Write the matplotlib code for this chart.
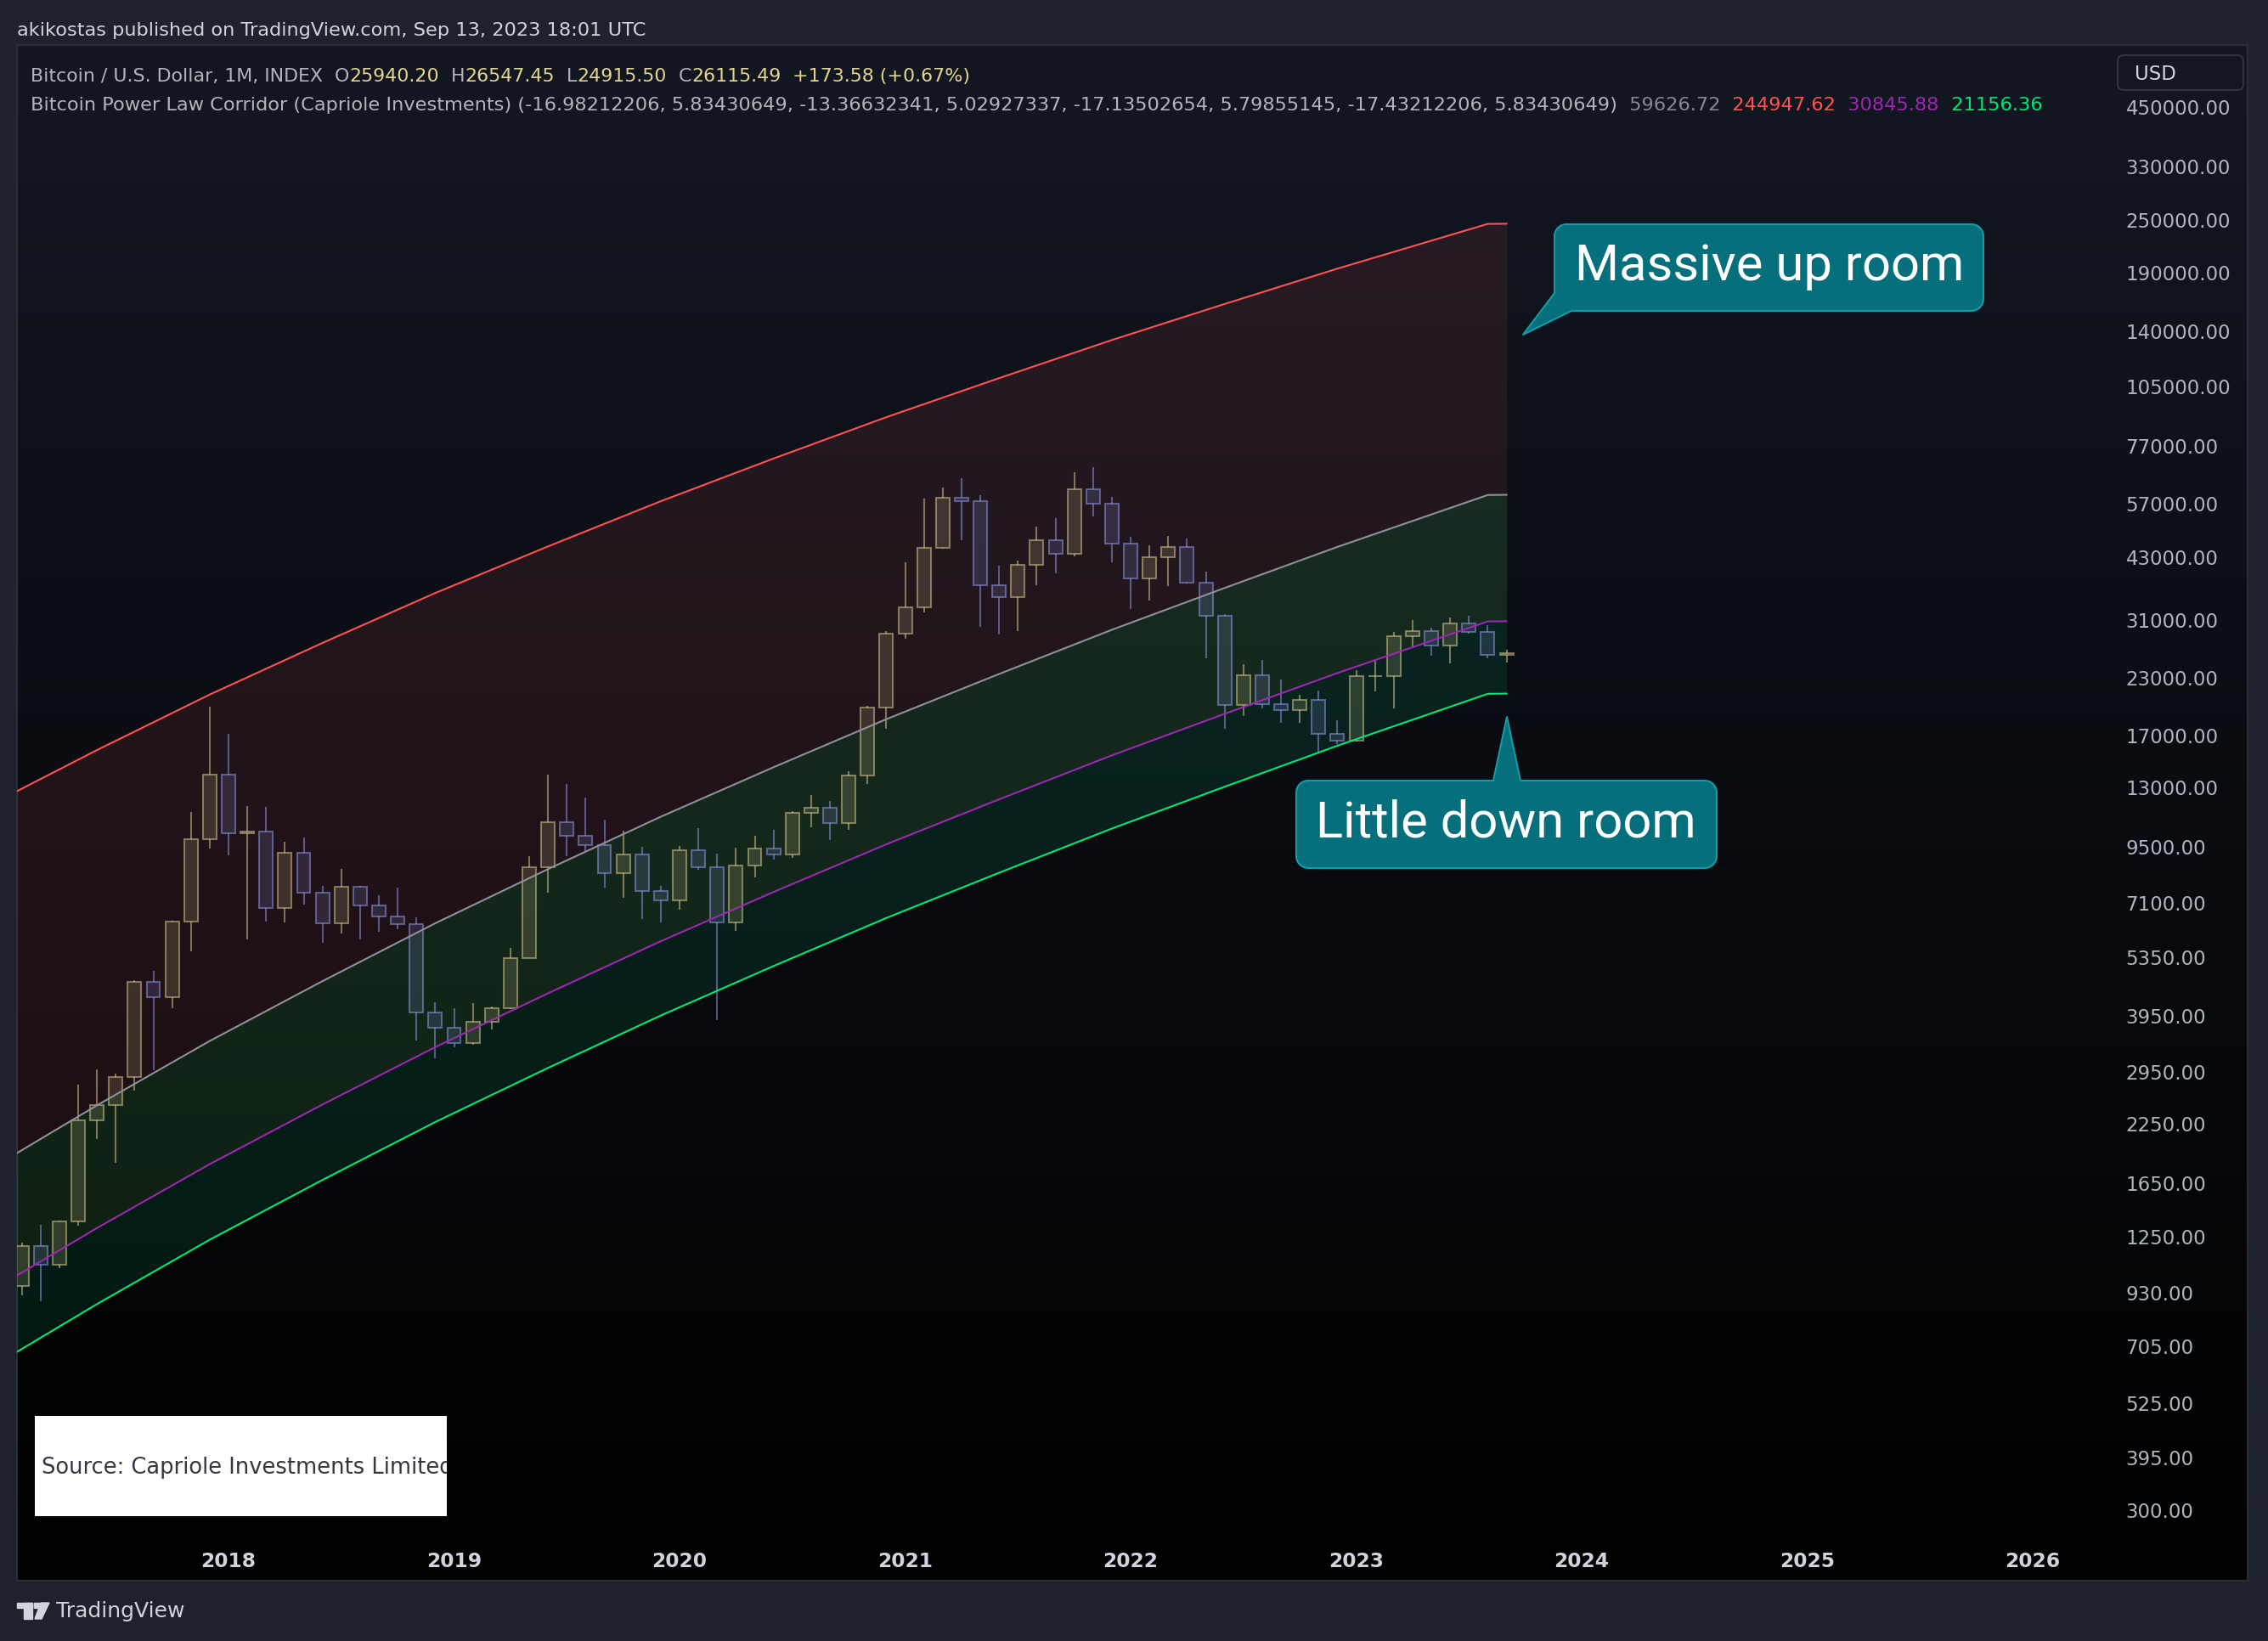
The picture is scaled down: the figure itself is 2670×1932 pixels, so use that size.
import numpy as np
import matplotlib.pyplot as plt
import matplotlib.transforms as mtransforms
from matplotlib.patches import Rectangle, Polygon, FancyBboxPatch
from matplotlib.ticker import NullLocator

W, H = 2670, 1932
UI = ["DejaVu Sans"]
plt.rcParams["font.family"] = UI

# ---- monthly BTCUSD index candles, Feb 2017 .. Sep 2023 ----
first_month = "2017-02"
opens = [965, 1190, 1078, 1350, 2290, 2480, 2870, 4710, 4340, 6450, 9900,
         13850, 10200, 10300, 6930, 9240, 7490, 6390, 7730, 7020, 6620, 6360, 4020,
         3700, 3430, 3820, 4100, 5320, 8560, 10800, 10080, 9590, 8290, 9150, 7550,
         7190, 9350, 8550, 6430, 8630, 9450, 9140, 11350, 11660, 10780, 13800, 19700,
         28950, 33100, 45200, 58800, 57700, 37300, 35040, 41460, 47100, 43800, 61300, 57000,
         46200, 38480, 43160, 45500, 37640, 31790, 19930, 23300, 20050, 19430, 20490, 17170,
         16550, 23130, 23150, 28480, 29250, 27200, 30480, 29230, 25940.20]
highs = [1210, 1330, 1360, 2760, 2980, 2920, 4760, 4980, 6470, 11400, 19780,
         17150, 11750, 11700, 9760, 10000, 7770, 8500, 7770, 7410, 7680, 6590, 4240,
         4100, 4210, 4150, 5620, 9080, 13880, 13200, 12330, 10950, 10370, 9510, 7760,
         9580, 10500, 9190, 9460, 10070, 10380, 11440, 12480, 12090, 14100, 19860, 29300,
         41950, 58350, 61790, 64900, 59600, 41300, 42400, 50500, 52900, 67000, 69000, 59100,
         48000, 45800, 48200, 47450, 40000, 31990, 24670, 25200, 22800, 21000, 21480, 18400,
         23950, 25250, 29200, 31000, 29850, 31400, 31800, 30200, 26547.45]
lows = [920, 890, 1060, 1320, 2080, 1830, 2670, 2970, 4110, 5520, 9440,
        9100, 5870, 6450, 6420, 7040, 5760, 6070, 5880, 6120, 6200, 3470, 3160,
        3350, 3390, 3680, 4080, 5330, 7510, 9070, 9330, 7710, 7300, 6520, 6430,
        6870, 8450, 3860, 6150, 8120, 8900, 8980, 10540, 9880, 10410, 13220, 17600,
        28130, 32300, 44950, 47000, 30000, 28800, 29300, 37300, 39600, 43300, 53300, 42000,
        32900, 34300, 37100, 37600, 25400, 17600, 18800, 19550, 18150, 18200, 15480, 16300,
        16500, 21400, 19600, 26900, 25800, 24800, 28900, 25400, 24915.50]
closes = [1190, 1078, 1350, 2290, 2480, 2870, 4710, 4340, 6450, 9900, 13850,
          10200, 10300, 6930, 9240, 7490, 6390, 7730, 7020, 6620, 6360, 4020, 3700,
          3430, 3820, 4100, 5320, 8560, 10800, 10080, 9590, 8290, 9150, 7550, 7190,
          9350, 8550, 6430, 8630, 9450, 9140, 11350, 11660, 10780, 13800, 19700, 28950,
          33100, 45200, 58800, 57700, 37300, 35040, 41460, 47100, 43800, 61300, 57000, 46200,
          38480, 43160, 45500, 37640, 31790, 19930, 23300, 20050, 19430, 20490, 17170, 16550,
          23130, 23150, 28480, 29250, 27200, 30480, 29230, 25940, 26115.49]

# ---- power law corridor lines (read at a few bars) ----
band_months = ["2016-12", "2017-06", "2017-12", "2018-06", "2018-12", "2019-06", "2019-12",
               "2020-06", "2020-12", "2021-06", "2021-12", "2022-06", "2022-12", "2023-08", "2023-09"]
band_mid = [1742, 2474, 3460, 4727, 6391, 8475, 11136, 14414, 18514, 23434, 29505, 36689, 45443, 59560, 59626.72]
band_top = [11654, 15762, 21050, 27553, 35730, 45562, 57662, 72037, 89360, 109520, 133580, 161190, 193800, 244700, 244947.62]
band_fair = [921, 1305, 1821, 2485, 3351, 4436, 5820, 7522, 9645, 12191, 15331, 19041, 23545, 30820, 30845.88]
band_low = [618, 878, 1228, 1677, 2268, 3007, 3951, 5114, 6569, 8315, 10469, 13018, 16124, 21133, 21156.36]

price_ticks = [450000, 330000, 250000, 190000, 140000, 105000, 77000, 57000, 43000, 31000,
               23000, 17000, 13000, 9500, 7100, 5350, 3950, 2950, 2250, 1650, 1250, 930,
               705, 525, 395, 300]
years = [2018, 2019, 2020, 2021, 2022, 2023, 2024, 2025, 2026]


def month_idx(s):
    y, m = s.split("-")
    return (int(y) - 2017) * 12 + int(m) - 1


x0 = month_idx(first_month)
xs = np.arange(x0, x0 + len(opens))
bx = np.array([month_idx(m) for m in band_months])

fig = plt.figure(figsize=(W / 100, H / 100), dpi=100, facecolor="#1e222d")
px = mtransforms.Affine2D().scale(1 / W, -1 / H).translate(0, 1) + fig.transFigure


def frac(l, t, r, b):
    return [l / W, 1 - b / H, (r - l) / W, (b - t) / H]


# panel background gradient
bg = fig.add_axes(frac(20, 53, 2646, 1861), zorder=0)
grad = np.linspace(0, 1, 256)[:, None, None]
top_c = np.array([19, 23, 34]) / 255
bot_c = np.array([0, 0, 0]) / 255
img = top_c * (1 - grad) + bot_c * grad
bg.imshow(np.repeat(img, 2, axis=1), aspect="auto", extent=[0, 1, 0, 1])
bg.set_axis_off()
fig.add_artist(Rectangle((20, 53), 2626, 1808, transform=px, fill=False,
                         edgecolor="#2a2e39", lw=1.5))

ax = fig.add_axes(frac(20, 53, 2490, 1812), zorder=1)
ax.set_facecolor("none")
ax.set_yscale("log")
ax.set_ylim(258, 621700)
ax.set_xlim(0.746, 112.38)

# fills and lines
ax.fill_between(bx, band_mid, band_top, color=(235 / 255, 87 / 255, 95 / 255), alpha=0.10, lw=0, zorder=1)
ax.fill_between(bx, band_fair, band_mid, color=(90 / 255, 210 / 255, 95 / 255), alpha=0.14, lw=0, zorder=1)
ax.fill_between(bx, band_low, band_fair, color=(0, 190 / 255, 117 / 255), alpha=0.12, lw=0, zorder=1)

# candles
up_c = (224 / 255, 210 / 255, 150 / 255)
dn_c = (150 / 255, 160 / 255, 240 / 255)
o = np.array(opens); c = np.array(closes); hi = np.array(highs); lo = np.array(lows)
up = c >= o
top_b = np.maximum(o, c); bot_b = np.minimum(o, c)
for mask, col in [(up, up_c), (~up, dn_c)]:
    ax.bar(xs[mask], top_b[mask] - bot_b[mask], bottom=bot_b[mask], width=0.72,
           facecolor=col + (0.16,), edgecolor=col + (0.5,), linewidth=1.5, zorder=3)
    ax.vlines(xs[mask], top_b[mask], hi[mask], color=col + (0.5,), lw=1.5, zorder=3)
    ax.vlines(xs[mask], lo[mask], bot_b[mask], color=col + (0.5,), lw=1.5, zorder=3)

ax.plot(bx, band_top, color="#ff5252", lw=1.5, zorder=4)
ax.plot(bx, band_mid, color="#8e919b", lw=1.5, zorder=4)
ax.plot(bx, band_fair, color="#9c27b0", lw=1.5, zorder=4)
ax.plot(bx, band_low, color="#00e676", lw=1.5, zorder=4)

for s in ax.spines.values():
    s.set_visible(False)
ax.yaxis.tick_right()
ax.set_yticks(price_ticks)
ax.set_yticklabels([f"{v:.2f}" for v in price_ticks])
ax.yaxis.set_minor_locator(NullLocator())
ax.tick_params(axis="y", length=0, pad=9, labelsize=16.5, labelcolor="#b2b5be")
ax.set_xticks([month_idx(f"{y}-01") for y in years])
ax.set_xticklabels([str(y) for y in years], fontweight="bold")
ax.tick_params(axis="x", length=0, pad=10.5, labelsize=16.8, labelcolor="#d1d4dc")

# header & legend
fig.text(20 / W, 1 - 36 / H, "akikostas published on TradingView.com, Sep 13, 2023 18:01 UTC",
         color="#d1d4dc", fontsize=16.2, va="center")

rend = fig.canvas.get_renderer()


def segments(x, y, parts, size=16.1):
    for s, col in parts:
        t = fig.text(x / W, 1 - y / H, s, color=col, fontsize=size, va="center", ha="left")
        x += t.get_window_extent(renderer=rend).width


grey_t = "#b2b5be"
khaki = "#e3d58f"
segments(36, 90, [("Bitcoin / U.S. Dollar, 1M, INDEX  O", grey_t), ("25940.20", khaki),
                  ("  H", grey_t), ("26547.45", khaki), ("  L", grey_t), ("24915.50", khaki),
                  ("  C", grey_t), ("26115.49", khaki), ("  +173.58 (+0.67%)", khaki)], size=15.9)
segments(36, 124, [("Bitcoin Power Law Corridor (Capriole Investments) (-16.98212206, 5.83430649, "
                    "-13.36632341, 5.02927337, -17.13502654, 5.79855145, -17.43212206, 5.83430649)", grey_t),
                   ("  59626.72", "#868993"), ("  244947.62", "#ff5252"),
                   ("  30845.88", "#9c27b0"), ("  21156.36", "#00e676")], size=16.2)

# currency box
fig.add_artist(FancyBboxPatch((2493, 65), 148, 41, boxstyle="round,pad=0,rounding_size=7",
                              transform=px, facecolor="#131722", edgecolor="#363a45", lw=1.2))
fig.text(2513 / W, 1 - 87 / H, "USD", color="#d1d4dc", fontsize=16.5, va="center")


# callouts
def arc(cx, cy, r, a0, a1):
    t = np.radians(np.linspace(a0, a1, 8))
    return list(zip(cx + r * np.cos(t), cy + r * np.sin(t)))


def callout(l, t, r, b, tail, where, rad=14):
    pts = arc(l + rad, t + rad, rad, 180, 270)
    if where == "top":
        pts += tail
    pts += arc(r - rad, t + rad, rad, 270, 360)
    pts += arc(r - rad, b - rad, rad, 0, 90)
    if where == "bottomleft":
        pts += tail
    else:
        pts += arc(l + rad, b - rad, rad, 90, 180)
    fig.add_artist(Polygon(pts, closed=True, transform=px, facecolor="#05707b",
                           edgecolor="#139ca6", lw=1.5, joinstyle="round"))


callout(1830, 264, 2335, 366, [(1850, 366), (1793, 394), (1830, 345)], "bottomleft")
fig.text(2083 / W, 1 - 313 / H, "Massive up room", color="white", fontsize=43,
         ha="center", va="center", family="Roboto")
callout(1526, 919, 2021, 1022, [(1758, 919), (1774, 844), (1790, 919)], "top")
fig.text(1773 / W, 1 - 969 / H, "Little down room", color="white", fontsize=43,
         ha="center", va="center", family="Roboto")

# source box
src = Rectangle((41, 1667), 485, 118, transform=px, facecolor="white", edgecolor="none")
fig.add_artist(src)
st = fig.text(49 / W, 1 - 1728 / H, "Source: Capriole Investments Limited", color="#363640",
              fontsize=18.5, va="center")
st.set_clip_path(src)

# footer logo
logo_c = "#d1d4dc"
fig.add_artist(Rectangle((20, 1887), 18, 6, transform=px, color=logo_c))
fig.add_artist(Rectangle((28, 1887), 10, 19, transform=px, color=logo_c))
fig.add_artist(Polygon([(40, 1887), (46, 1887), (46, 1893), (40, 1893)], transform=px, color=logo_c))
fig.add_artist(Polygon([(48, 1887), (58, 1887), (49, 1906), (41, 1906)], transform=px, color=logo_c))
fig.text(66 / W, 1 - 1897 / H, "TradingView", color=logo_c, fontsize=18, va="center")

fig.savefig("out.png", dpi=100, facecolor=fig.get_facecolor())
